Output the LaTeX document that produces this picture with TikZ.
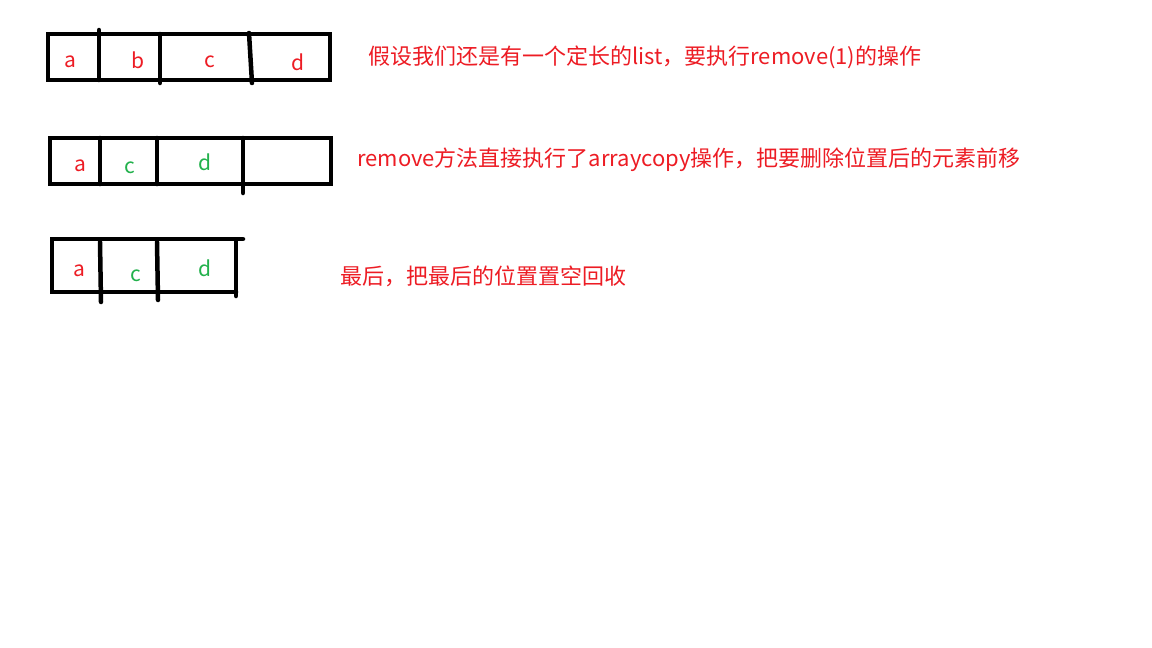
\documentclass[tikz,border=0pt]{standalone}
\usepackage{fontspec}
\newfontfamily\cjk{Noto Sans CJK SC}
\definecolor{pred}{HTML}{ED1C24}
\definecolor{pgreen}{HTML}{22B14C}
\tikzset{
  bar/.style={line width=4.5pt, line cap=round, line join=miter},
  lett/.style={font=\cjk\fontsize{21}{24}\selectfont, inner sep=0pt, anchor=center},
  note/.style={font=\cjk\fontsize{22}{26}\selectfont, text=pred, inner sep=0pt, anchor=west}
}
\begin{document}
\begin{tikzpicture}[x=1pt,y=-1pt]
\useasboundingbox[fill=white] (0,0) rectangle (1152,648);
% row 1
\draw[bar] (48,34) rectangle (330,80);
\draw[bar] (99,30) -- (99,80);
\draw[bar] (160,34) -- (160,83);
\draw[bar] (249,33) -- (252,83);
\node[lett,text=pred] (a1) at (70,62) {a};
\node[lett,text=pred] (b1) at (138,60) {b};
\node[lett,text=pred] (c1) at (210,62) {c};
\node[lett,text=pred] (d1) at (298,62) {d};
\node[note] (t1) at (368,57) {假设我们还是有一个定长的list，要执行remove(1)的操作};
% row 2
\draw[bar] (50,138) rectangle (331,184);
\draw[bar] (100,138) -- (100,184);
\draw[bar] (157,138) -- (157,184);
\draw[bar] (243,138) -- (243,193);
\node[lett,text=pred] (a2) at (80,166) {a};
\node[lett,text=pgreen] (c2) at (130,168) {c};
\node[lett,text=pgreen] (d2) at (205,162) {d};
\node[note] (t2) at (357,160) {remove方法直接执行了arraycopy操作，把要删除位置后的元素前移};
% row 3
\draw[bar] (236,296) -- (236,239) -- (52,239) -- (52,292) -- (236,292);
\draw[bar] (236,239) -- (243,239);
\draw[bar] (100,242) -- (101,302);
\draw[bar] (157,242) -- (158,300);
\node[lett,text=pred] (a3) at (79,271) {a};
\node[lett,text=pgreen] (c3) at (136,276) {c};
\node[lett,text=pgreen] (d3) at (205,268) {d};
\node[note] (t3) at (340,276) {最后，把最后的位置置空回收};
\end{tikzpicture}
\end{document}
